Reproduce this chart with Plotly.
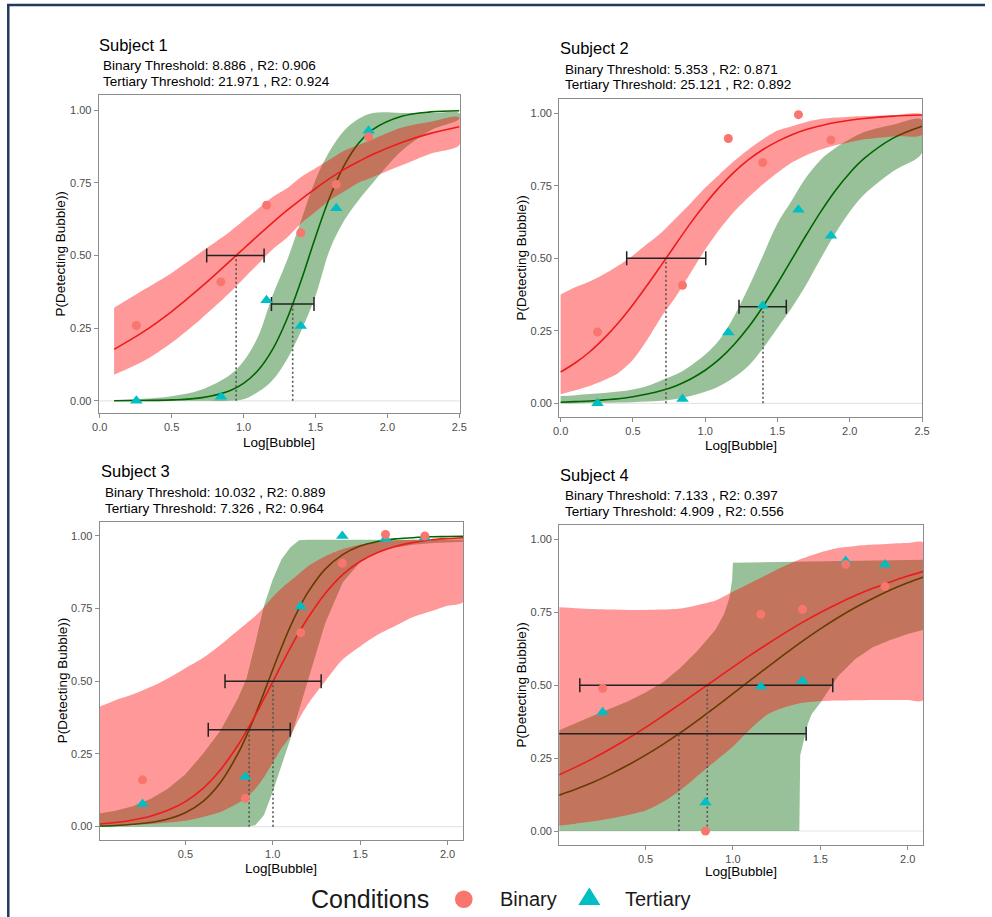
import math
import plotly.graph_objects as go

W, H = 992, 917

# ---------------- data ----------------
SUBJECTS = ["Subject 1", "Subject 2", "Subject 3", "Subject 4"]
BIN_THRESHOLD = [8.886, 5.353, 10.032, 7.133]
BIN_R2 = [0.906, 0.871, 0.889, 0.397]
TER_THRESHOLD = [21.971, 25.121, 7.326, 4.909]
TER_R2 = [0.924, 0.892, 0.964, 0.556]
BIN_LEVEL = 0.5
TER_LEVEL = 0.333

LOG_BUBBLE = [0.255, 0.843, 1.160, 1.398, 1.645, 1.870]
BIN_POINTS = [
    [0.259, 0.409, 0.673, 0.578, 0.744, 0.908],
    [0.246, 0.407, 0.913, 0.830, 0.995, 0.908],
    [0.161, 0.098, 0.667, 0.906, 1.005, 1.0],
    [0.489, 0.0, 0.743, 0.760, 0.914, 0.838],
]
TER_POINTS = [
    [0.0, 0.014, 0.346, 0.257, 0.662, 0.929],
    [0.0, 0.015, 0.244, 0.336, 0.667, 0.578],
    [0.078, 0.172, 0.757, 1.0, 0.99, 0.995],
    [0.407, 0.098, 0.495, 0.514, 0.926, 0.914],
]

# threshold confidence intervals (horizontal error bars)
BIN_CI = [[0.744, 1.143], [0.457, 1.004], [0.727, 1.277], [0.124, 1.571]]
TER_CI = [[1.194, 1.490], [1.234, 1.561], [0.631, 1.100], [-0.2, 1.419]]

# fitted curves and confidence ribbons
S1_X = [0.1, 0.3, 0.5, 0.7, 0.9, 1.0, 1.1, 1.2, 1.3, 1.4, 1.5, 1.6, 1.7, 1.8, 1.9, 2.1, 2.3, 2.5]
S1_BIN_FIT = [0.177, 0.236, 0.307, 0.389, 0.478, 0.523, 0.568, 0.612, 0.654, 0.693, 0.730, 0.765, 0.796, 0.823, 0.848, 0.889, 0.920, 0.943]
S1_BIN_LO = [0.09, 0.135, 0.20, 0.28, 0.37, 0.42, 0.47, 0.52, 0.56, 0.61, 0.65, 0.69, 0.72, 0.75, 0.77, 0.81, 0.85, 0.88]
S1_BIN_HI = [0.32, 0.38, 0.44, 0.51, 0.58, 0.62, 0.66, 0.70, 0.73, 0.77, 0.80, 0.83, 0.86, 0.88, 0.90, 0.94, 0.96, 0.975]
S1_TER_FIT = [0.000, 0.001, 0.003, 0.010, 0.034, 0.060, 0.104, 0.175, 0.279, 0.413, 0.563, 0.701, 0.810, 0.886, 0.934, 0.979, 0.994, 0.998]
S1_TER_LO = [0.0, 0.0, 0.0, 0.0, 0.0, 0.005, 0.03, 0.07, 0.14, 0.24, 0.36, 0.52, 0.62, 0.69, 0.75, 0.86, 0.93, 0.97]
S1_TER_HI = [0.003, 0.007, 0.016, 0.037, 0.087, 0.136, 0.22, 0.36, 0.48, 0.62, 0.76, 0.86, 0.93, 0.97, 0.99, 0.99, 0.99, 0.99]

S2_X = [0.0, 0.1, 0.2, 0.3, 0.4, 0.5, 0.6, 0.7, 0.8, 0.9, 1.0, 1.1, 1.2, 1.3, 1.4, 1.5, 1.6, 1.7, 1.8, 1.9, 2.0, 2.1, 2.3, 2.5]
S2_BIN_FIT = [0.108, 0.139, 0.177, 0.224, 0.278, 0.340, 0.408, 0.479, 0.551, 0.622, 0.687, 0.746, 0.797, 0.840, 0.875, 0.903, 0.926, 0.944, 0.957, 0.968, 0.976, 0.982, 0.990, 0.994]
S2_BIN_LO = [0.031, 0.045, 0.06, 0.08, 0.105, 0.15, 0.22, 0.30, 0.37, 0.45, 0.53, 0.60, 0.66, 0.71, 0.755, 0.795, 0.83, 0.855, 0.875, 0.89, 0.90, 0.91, 0.92, 0.926]
S2_BIN_HI = [0.375, 0.40, 0.42, 0.445, 0.475, 0.51, 0.55, 0.59, 0.64, 0.69, 0.743, 0.79, 0.835, 0.875, 0.91, 0.94, 0.955, 0.97, 0.98, 0.985, 0.988, 0.99, 0.993, 0.995]
S2_TER_FIT = [0.004, 0.006, 0.008, 0.012, 0.016, 0.023, 0.032, 0.044, 0.061, 0.084, 0.114, 0.153, 0.203, 0.263, 0.334, 0.413, 0.497, 0.581, 0.661, 0.733, 0.794, 0.844, 0.914, 0.955]
S2_TER_LO = [0.0, 0.0, 0.001, 0.002, 0.003, 0.004, 0.006, 0.009, 0.015, 0.025, 0.04, 0.06, 0.09, 0.13, 0.19, 0.26, 0.33, 0.41, 0.50, 0.585, 0.66, 0.72, 0.80, 0.863]
S2_TER_HI = [0.025, 0.028, 0.032, 0.036, 0.041, 0.048, 0.06, 0.08, 0.10, 0.13, 0.168, 0.22, 0.30, 0.40, 0.51, 0.62, 0.70, 0.78, 0.84, 0.88, 0.91, 0.935, 0.96, 0.977]

S3_X = [0.01, 0.1, 0.2, 0.3, 0.4, 0.5, 0.6, 0.7, 0.8, 0.85, 0.9, 0.95, 1.0, 1.05, 1.1, 1.15, 1.2, 1.3, 1.4, 1.5, 1.6, 1.7, 1.8, 1.9, 2.0, 2.09]
S3_BIN_FIT = [0.009, 0.014, 0.023, 0.036, 0.056, 0.086, 0.131, 0.195, 0.279, 0.329, 0.382, 0.440, 0.498, 0.557, 0.614, 0.668, 0.717, 0.802, 0.867, 0.912, 0.943, 0.964, 0.977, 0.986, 0.991, 0.994]
S3_BIN_LO = [0.003, 0.004, 0.006, 0.009, 0.014, 0.02, 0.033, 0.05, 0.08, 0.10, 0.13, 0.17, 0.22, 0.27, 0.31, 0.37, 0.42, 0.50, 0.575, 0.62, 0.66, 0.69, 0.72, 0.74, 0.76, 0.774]
S3_BIN_HI = [0.413, 0.435, 0.455, 0.48, 0.51, 0.545, 0.58, 0.625, 0.675, 0.70, 0.725, 0.755, 0.79, 0.82, 0.845, 0.87, 0.895, 0.93, 0.955, 0.97, 0.978, 0.984, 0.987, 0.989, 0.99, 0.991]
S3_TER_FIT = [0.002, 0.004, 0.008, 0.014, 0.026, 0.048, 0.086, 0.151, 0.250, 0.313, 0.384, 0.461, 0.540, 0.616, 0.688, 0.751, 0.805, 0.886, 0.936, 0.965, 0.981, 0.990, 0.994, 0.997, 0.998, 0.999]
S3_TER_LO = [0.0, 0.0, 0.0, 0.0, 0.0, 0.0, 0.0, 0.0, 0.0, 0.0, 0.005, 0.04, 0.12, 0.21, 0.30, 0.40, 0.50, 0.70, 0.84, 0.91, 0.945, 0.96, 0.97, 0.975, 0.978, 0.98]
S3_TER_HI = [0.045, 0.055, 0.07, 0.095, 0.13, 0.18, 0.25, 0.33, 0.44, 0.51, 0.63, 0.76, 0.85, 0.92, 0.96, 0.985, 0.987, 0.987, 0.987, 0.987, 0.987, 0.987, 0.987, 0.987, 0.987, 0.987]

S4_X = [0.006, 0.1, 0.2, 0.3, 0.4, 0.5, 0.6, 0.7, 0.8, 0.9, 1.0, 1.1, 1.2, 1.3, 1.4, 1.5, 1.6, 1.7, 1.8, 1.9, 2.0, 2.09]
S4_BIN_FIT = [0.193, 0.219, 0.249, 0.282, 0.317, 0.355, 0.395, 0.436, 0.478, 0.520, 0.562, 0.603, 0.642, 0.680, 0.716, 0.749, 0.779, 0.807, 0.832, 0.854, 0.874, 0.890]
S4_BIN_LO = [0.018, 0.025, 0.033, 0.043, 0.055, 0.07, 0.10, 0.14, 0.19, 0.24, 0.29, 0.35, 0.40, 0.425, 0.44, 0.445, 0.447, 0.448, 0.449, 0.449, 0.449, 0.449]
S4_BIN_HI = [0.767, 0.764, 0.761, 0.759, 0.758, 0.758, 0.759, 0.763, 0.775, 0.79, 0.82, 0.85, 0.88, 0.91, 0.935, 0.955, 0.97, 0.977, 0.982, 0.985, 0.987, 0.988]
S4_TER_FIT = [0.123, 0.143, 0.167, 0.195, 0.226, 0.260, 0.297, 0.337, 0.380, 0.425, 0.471, 0.517, 0.563, 0.608, 0.652, 0.693, 0.731, 0.766, 0.797, 0.826, 0.851, 0.871]
S4_TER_BAND_X = [0.006, 0.1, 0.2, 0.3, 0.4, 0.5, 0.6, 0.7, 0.8, 0.9, 0.95, 0.98, 0.995, 1.0, 1.1, 1.2, 1.3, 1.38, 1.385, 1.4, 1.43, 1.45, 1.5, 1.6, 1.7, 1.8, 1.9, 2.0, 2.09]
S4_TER_LO = [0, 0, 0, 0, 0, 0, 0, 0, 0, 0, 0, 0, 0, 0, 0, 0, 0, 0, 0.26, 0.30, 0.37, 0.40, 0.44, 0.53, 0.59, 0.63, 0.655, 0.675, 0.69]
S4_TER_HI = [0.345, 0.37, 0.395, 0.42, 0.445, 0.475, 0.51, 0.56, 0.62, 0.69, 0.745, 0.80, 0.86, 0.92, 0.921, 0.922, 0.923, 0.924, 0.924, 0.924, 0.925, 0.925, 0.925, 0.926, 0.927, 0.928, 0.929, 0.93, 0.93]

CURVES = [
    dict(x=S1_X, bfit=S1_BIN_FIT, blo=S1_BIN_LO, bhi=S1_BIN_HI, tfit=S1_TER_FIT, tx=S1_X, tlo=S1_TER_LO, thi=S1_TER_HI, tshape="spline"),
    dict(x=S2_X, bfit=S2_BIN_FIT, blo=S2_BIN_LO, bhi=S2_BIN_HI, tfit=S2_TER_FIT, tx=S2_X, tlo=S2_TER_LO, thi=S2_TER_HI, tshape="spline"),
    dict(x=S3_X, bfit=S3_BIN_FIT, blo=S3_BIN_LO, bhi=S3_BIN_HI, tfit=S3_TER_FIT, tx=S3_X, tlo=S3_TER_LO, thi=S3_TER_HI, tshape="linear"),
    dict(x=S4_X, bfit=S4_BIN_FIT, blo=S4_BIN_LO, bhi=S4_BIN_HI, tfit=S4_TER_FIT, tx=S4_TER_BAND_X, tlo=S4_TER_LO, thi=S4_TER_HI, tshape="linear"),
]

X_TICKS = [[0, 0.5, 1, 1.5, 2, 2.5], [0, 0.5, 1, 1.5, 2, 2.5], [0.5, 1, 1.5, 2], [0.5, 1, 1.5, 2]]
Y_TICKS = [0, 0.25, 0.5, 0.75, 1.0]

# ---------------- layout geometry (pixels in the target picture) ----------------
PANELS = [(98.3, 95, 460, 413), (559.3, 99, 923, 416.7), (99.3, 521.7, 463.3, 840), (559.3, 525, 924, 845)]
XRANGES = [[-0.007, 2.505], [-0.01, 2.503], [0.01, 2.09], [0.006, 2.09]]
YRANGES = [[-0.042, 1.052], [-0.046, 1.049], [-0.046, 1.049], [-0.048, 1.049]]
TITLE_POS = [(96.7, 45), (558.3, 48.3), (98.3, 471), (558.3, 475)]
SUB_POS = [(100.7, 66), (562.7, 69.3), (102.7, 492.7), (562.7, 495.7)]
XT_POS = [(279, 442), (741.3, 445.5), (281.3, 868.5), (741.7, 871)]
YT_POS = [(60, 254), (521.7, 258), (61.7, 681), (520.7, 685)]

# the captured picture shows the page shifted/compressed horizontally; compensate
XOFF, XSCALE = 6.5, 0.987

FONT = "Liberation Sans, Arial, Helvetica, sans-serif"
RED_FILL = "rgba(255,0,0,0.4)"
GREEN_FILL = "rgba(0,100,0,0.4)"
RED_LINE = "rgb(236,28,28)"
GREEN_LINE = "#006400"
BIN_PT = "#F8766D"
TER_PT = "#00BFC4"


def pxx(px):
    return (px - XOFF) / XSCALE / W


def pxy(py):
    return 1 - py / H


fig = go.Figure()
shapes = []
annotations = []
layout_axes = {}

for i in range(4):
    s = "" if i == 0 else str(i + 1)
    xa, ya = "x" + s, "y" + s
    c = CURVES[i]
    L, T, R, B = PANELS[i]

    layout_axes["xaxis" + s] = dict(
        domain=[pxx(L), pxx(R)], range=XRANGES[i], anchor=ya,
        showgrid=False, zeroline=False, showline=True, mirror=True,
        linecolor="#8c8c8c", linewidth=1, ticks="outside", ticklen=4,
        tickcolor="#8c8c8c", tickvals=X_TICKS[i],
        ticktext=["%.1f" % v for v in X_TICKS[i]],
        tickfont=dict(family=FONT, size=11, color="#4d4d4d"),
    )
    layout_axes["yaxis" + s] = dict(
        domain=[pxy(B), pxy(T)], range=YRANGES[i], anchor=xa,
        showgrid=False, zeroline=False, showline=True, mirror=True,
        linecolor="#8c8c8c", linewidth=1, ticks="outside", ticklen=4,
        tickcolor="#8c8c8c", tickvals=Y_TICKS,
        ticktext=["%.2f" % v for v in Y_TICKS],
        tickfont=dict(family=FONT, size=11, color="#4d4d4d"),
    )

    # light reference line at 0
    shapes.append(dict(type="line", xref=xa + " domain", yref=ya, x0=0, x1=1, y0=0, y1=0,
                       line=dict(color="#e6e6e6", width=1.2), layer="below"))

    # tertiary ribbon + line
    fig.add_trace(go.Scatter(
        x=c["tx"] + c["tx"][::-1], y=c["thi"] + c["tlo"][::-1], xaxis=xa, yaxis=ya,
        mode="lines", fill="toself", fillcolor=GREEN_FILL,
        line=dict(width=0, shape=c["tshape"]), hoverinfo="skip", showlegend=False))
    fig.add_trace(go.Scatter(
        x=c["x"], y=c["tfit"], xaxis=xa, yaxis=ya, mode="lines",
        line=dict(color=GREEN_LINE, width=1.6, shape="spline"), showlegend=False))
    # binary ribbon + line
    fig.add_trace(go.Scatter(
        x=c["x"] + c["x"][::-1], y=c["bhi"] + c["blo"][::-1], xaxis=xa, yaxis=ya,
        mode="lines", fill="toself", fillcolor=RED_FILL,
        line=dict(width=0, shape="spline", smoothing=0.8), hoverinfo="skip", showlegend=False))
    fig.add_trace(go.Scatter(
        x=c["x"], y=c["bfit"], xaxis=xa, yaxis=ya, mode="lines",
        line=dict(color=RED_LINE, width=1.6, shape="spline"), showlegend=False))

    # threshold drop lines
    bt = math.log10(BIN_THRESHOLD[i])
    tt = math.log10(TER_THRESHOLD[i])
    for xv, lvl in ((bt, BIN_LEVEL), (tt, TER_LEVEL)):
        fig.add_trace(go.Scatter(
            x=[xv, xv], y=[0, lvl], xaxis=xa, yaxis=ya, mode="lines",
            line=dict(color="#555555", width=1.6, dash="2px,2.5px"), showlegend=False))

    # threshold CI bars
    cap = 0.024
    for (lo, hi), lvl in ((BIN_CI[i], BIN_LEVEL), (TER_CI[i], TER_LEVEL)):
        fig.add_trace(go.Scatter(
            x=[lo, hi, None, lo, lo, None, hi, hi],
            y=[lvl, lvl, None, lvl - cap, lvl + cap, None, lvl - cap, lvl + cap],
            xaxis=xa, yaxis=ya, mode="lines",
            line=dict(color="#222222", width=1.5), showlegend=False))

    # observed points
    fig.add_trace(go.Scatter(
        x=LOG_BUBBLE, y=TER_POINTS[i], xaxis=xa, yaxis=ya, mode="markers",
        marker=dict(symbol="triangle-up", size=11, color=TER_PT), showlegend=False))
    fig.add_trace(go.Scatter(
        x=LOG_BUBBLE, y=BIN_POINTS[i], xaxis=xa, yaxis=ya, mode="markers",
        marker=dict(symbol="circle", size=9, color=BIN_PT), showlegend=False))

    # titles
    tx, ty = TITLE_POS[i]
    annotations.append(dict(text=SUBJECTS[i], x=pxx(tx), y=pxy(ty), xref="paper", yref="paper",
                            xanchor="left", yanchor="middle", showarrow=False,
                            font=dict(family=FONT, size=16.5, color="#000000")))
    sx, sy = SUB_POS[i]
    annotations.append(dict(text="Binary Threshold: %.3f , R2: %.3f" % (BIN_THRESHOLD[i], BIN_R2[i]),
                            x=pxx(sx), y=pxy(sy), xref="paper", yref="paper",
                            xanchor="left", yanchor="middle", showarrow=False,
                            font=dict(family=FONT, size=13.5, color="#000000")))
    annotations.append(dict(text="Tertiary Threshold: %.3f , R2: %.3f" % (TER_THRESHOLD[i], TER_R2[i]),
                            x=pxx(sx), y=pxy(sy + 15.3), xref="paper", yref="paper",
                            xanchor="left", yanchor="middle", showarrow=False,
                            font=dict(family=FONT, size=13.5, color="#000000")))
    ax_, ay_ = XT_POS[i]
    annotations.append(dict(text="Log[Bubble]", x=pxx(ax_), y=pxy(ay_), xref="paper", yref="paper",
                            xanchor="center", yanchor="middle", showarrow=False,
                            font=dict(family=FONT, size=13.5, color="#000000")))
    bx_, by_ = YT_POS[i]
    annotations.append(dict(text="P(Detecting Bubble))", x=pxx(bx_), y=pxy(by_), xref="paper", yref="paper",
                            xanchor="center", yanchor="middle", showarrow=False, textangle=-90,
                            font=dict(family=FONT, size=13.5, color="#000000")))

# ---------------- legend (drawn manually) ----------------
annotations.append(dict(text="Conditions", x=pxx(309), y=pxy(899), xref="paper", yref="paper",
                        xanchor="left", yanchor="middle", showarrow=False,
                        font=dict(family=FONT, size=25, color="#1a1a1a")))
annotations.append(dict(text="Binary", x=pxx(498), y=pxy(899), xref="paper", yref="paper",
                        xanchor="left", yanchor="middle", showarrow=False,
                        font=dict(family=FONT, size=20, color="#1a1a1a")))
annotations.append(dict(text="Tertiary", x=pxx(623), y=pxy(899), xref="paper", yref="paper",
                        xanchor="left", yanchor="middle", showarrow=False,
                        font=dict(family=FONT, size=20, color="#1a1a1a")))
shapes.append(dict(type="circle", xref="paper", yref="paper",
                   x0=pxx(455), x1=pxx(472.6), y0=pxy(908.1), y1=pxy(890.5),
                   fillcolor=BIN_PT, line=dict(width=0)))
shapes.append(dict(type="path", xref="paper", yref="paper",
                   path="M %f %f L %f %f L %f %f Z" % (pxx(578.5), pxy(905), pxx(600.5), pxy(905),
                                                      pxx(589.5), pxy(887.5)),
                   fillcolor=TER_PT, line=dict(width=0)))

# ---------------- page frame ----------------
shapes.append(dict(type="line", xref="paper", yref="paper", x0=0.0, x1=1.0, y0=pxy(5), y1=pxy(5),
                   line=dict(color="#22385e", width=2.5)))
shapes.append(dict(type="line", xref="paper", yref="paper", x0=1.3 / W, x1=1.3 / W, y0=pxy(4), y1=0,
                   line=dict(color="#22385e", width=2.5)))

fig.update_layout(
    width=W, height=H, autosize=False, margin=dict(l=0, r=0, t=0, b=0, pad=0),
    paper_bgcolor="white", plot_bgcolor="white",
    showlegend=False, shapes=shapes, annotations=annotations,
    font=dict(family=FONT), **layout_axes,
)

fig.write_html(
    "out.html",
    config={"responsive": False, "displayModeBar": False},
    post_script="document.body.style.margin='0';document.body.style.padding='0';"
                "document.documentElement.style.overflow='hidden';document.body.style.overflow='hidden';",
)
